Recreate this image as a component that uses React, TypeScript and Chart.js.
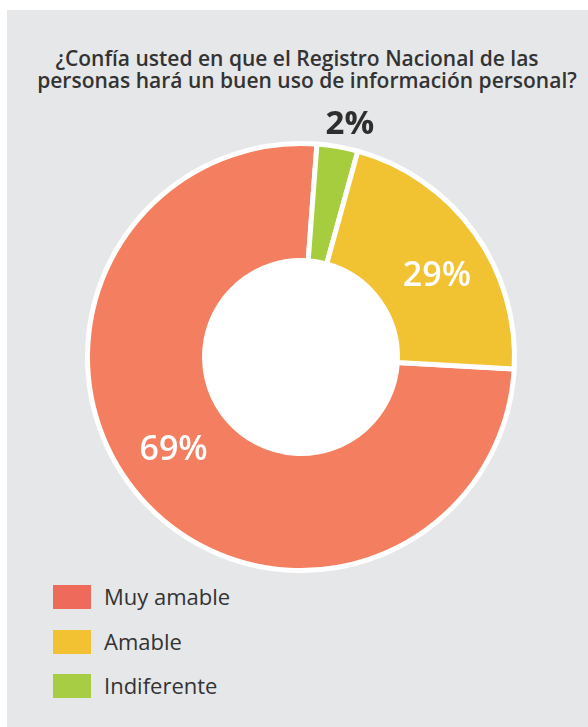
import React, { useEffect, useRef } from "react";
import { Chart, registerables } from "chart.js";

Chart.register(...registerables);

// ---- data ----
const titleLines = [
  "¿Confía usted en que el Registro Nacional de las",
  "personas hará un buen uso de información personal?",
];
const categories = ["Muy amable", "Amable", "Indiferente"];
// slice shares as drawn in the picture (degrees measured off the ring)
const sliceShares = [75.3, 21.6, 3.1];
// the percentages printed on the slices
const sliceLabels = ["69%", "29%", "2%"];
const sliceColors = ["#f37f60", "#f1c232", "#a6cd3e"];
const legendColors = ["#ee6b5b", "#f2c233", "#a7cd44"];
// clockwise drawing order starting at the red slice
const drawOrder = [0, 2, 1];

const FONT = "'Open Sans', 'Noto Sans', sans-serif";
const titleCenters = [297, 307];

const labelPlugin = {
  id: "sliceLabels",
  beforeDatasetsDraw(chart: any) {
    const meta = chart.getDatasetMeta(0);
    const arc = meta.data[0];
    if (!arc) return;
    const { x, y, innerRadius } = arc.getProps(["x", "y", "innerRadius"], true);
    const ctx = chart.ctx;
    ctx.save();
    ctx.fillStyle = "#ffffff";
    ctx.beginPath();
    ctx.arc(x, y, innerRadius, 0, Math.PI * 2);
    ctx.fill();
    ctx.restore();
  },
  afterDatasetsDraw(chart: any) {
    const meta = chart.getDatasetMeta(0);
    const ctx = chart.ctx;
    const labels: string[] = chart.data.datasets[0].sliceText;
    const values: number[] = chart.data.datasets[0].data;
    const total = values.reduce((a, b) => a + b, 0);
    ctx.save();
    ctx.textAlign = "center";
    ctx.textBaseline = "middle";
    meta.data.forEach((el: any, i: number) => {
      const p = el.getProps(["x", "y", "startAngle", "endAngle", "innerRadius", "outerRadius"], true);
      const mid = (p.startAngle + p.endAngle) / 2;
      const small = values[i] / total < 0.05;
      let r: number;
      let a: number;
      if (small) {
        r = p.outerRadius + 24;
        a = mid + (2 * Math.PI) / 180;
        ctx.fillStyle = "#2e2e2e";
        ctx.font = `700 33px ${FONT}`;
      } else {
        r = (p.innerRadius + p.outerRadius) / 2 + 3;
        a = mid + (5 * Math.PI) / 180;
        ctx.fillStyle = "#ffffff";
        ctx.font = `600 34px ${FONT}`;
      }
      ctx.fillText(labels[i], p.x + Math.cos(a) * r, p.y + Math.sin(a) * r);
    });
    ctx.restore();
  },
};

export default function App() {
  const ref = useRef<HTMLCanvasElement | null>(null);

  useEffect(() => {
    if (!ref.current) return;
    const chart = new Chart(ref.current, {
      type: "doughnut",
      data: {
        labels: drawOrder.map((i) => categories[i]),
        datasets: [
          {
            data: drawOrder.map((i) => sliceShares[i]),
            backgroundColor: drawOrder.map((i) => sliceColors[i]),
            borderColor: "#ffffff",
            borderWidth: 5,
            sliceText: drawOrder.map((i) => sliceLabels[i]),
          } as any,
        ],
      },
      options: {
        animation: false,
        responsive: false,
        rotation: 93.2,
        radius: 213.5,
        cutout: "45.2%",
        layout: { padding: { left: 14, right: 0, top: 0, bottom: 13 } },
        plugins: {
          legend: { display: false },
          tooltip: { enabled: false },
          title: { display: false },
        },
      },
      plugins: [labelPlugin],
    });
    return () => chart.destroy();
  }, []);

  return (
    <div
      style={{
        position: "absolute",
        left: 0,
        top: 0,
        width: 588,
        height: 727,
        background: "#ffffff",
        overflow: "hidden",
        fontFamily: FONT,
      }}
    >
      <div
        style={{
          position: "absolute",
          left: 7,
          top: 10,
          width: 581,
          height: 717,
          background: "#e6e7e9",
        }}
      />
      {titleLines.map((t, i) => (
        <div
          key={i}
          style={{
            position: "absolute",
            left: 0,
            width: titleCenters[i] * 2,
            top: 45 + i * 22,
            textAlign: "center",
            fontSize: 21,
            lineHeight: "26px",
            fontWeight: 600,
            color: "#333333",
            whiteSpace: "nowrap",
          }}
        >
          {t}
        </div>
      ))}
      {categories.map((c, i) => (
        <div key={c}>
          <div
            style={{
              position: "absolute",
              left: 53,
              top: 585 + i * 44.5,
              width: 38,
              height: 24,
              background: legendColors[i],
            }}
          />
          <div
            style={{
              position: "absolute",
              left: 104,
              top: 581 + i * 44.5,
              fontSize: 22,
              lineHeight: "30px",
              color: "#333333",
              whiteSpace: "nowrap",
            }}
          >
            {c}
          </div>
        </div>
      ))}
      <canvas
        ref={ref}
        width={588}
        height={727}
        style={{ position: "absolute", left: 0, top: 0, width: 588, height: 727 }}
      />
    </div>
  );
}
